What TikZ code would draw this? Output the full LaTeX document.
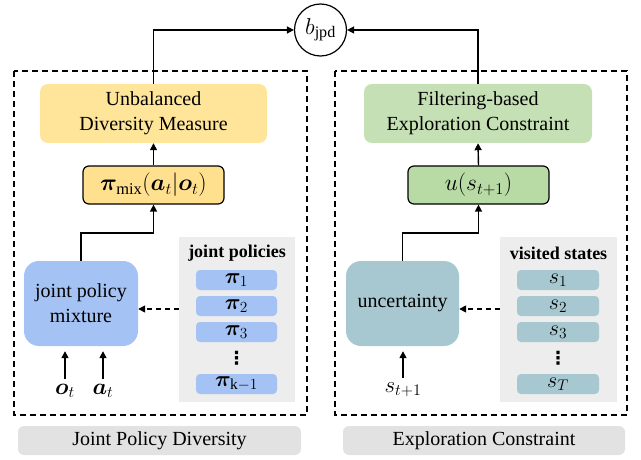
\RequirePackage{fix-cm}
\documentclass[tikz,border=0pt]{standalone}
\usepackage{fontspec}
\usepackage{amsmath}
\usepackage{bm}
\setmainfont{Liberation Serif}
\newfontfamily\symfont{DejaVu Sans}
\usetikzlibrary{arrows.meta,calc}

\definecolor{ylwA}{HTML}{FFE599}
\definecolor{ylwB}{HTML}{FFE08F}
\definecolor{grnA}{HTML}{C5E0B4}
\definecolor{grnB}{HTML}{B8DAA4}
\definecolor{bluA}{HTML}{A4C2F4}
\definecolor{tealA}{HTML}{A7C8D1}
\definecolor{panelgray}{HTML}{EDEDED}
\definecolor{tabgray}{HTML}{E2E2E2}

\tikzset{
  arr/.style={line width=1.4pt, -{Triangle[length=7pt,width=7pt]}},
  dasharr/.style={line width=1.4pt, dash pattern=on 5pt off 4pt, -{Triangle[length=7pt,width=7pt]}},
  frame/.style={line width=1.4pt, dash pattern=on 6pt off 4pt},
  bigbox/.style={rounded corners=8pt, minimum width=#1, minimum height=59pt, align=center, inner sep=0pt, font=\fontsize{20}{25}\selectfont},
  mathbox/.style={draw, line width=1.2pt, rounded corners=6pt, minimum width=141pt, minimum height=38pt, inner sep=0pt, font=\fontsize{23.5}{26}\selectfont},
  srcbox/.style={rounded corners=15pt, minimum width=#1, minimum height=85pt, align=center, inner sep=0pt, font=\fontsize{20}{25}\selectfont},
  panel/.style={fill=panelgray, minimum width=#1, minimum height=165pt, inner sep=0pt},
  item/.style={rounded corners=4pt, minimum width=81pt, minimum height=20pt, inner sep=0pt, font=\fontsize{22}{22}\selectfont},
  tab/.style={fill=tabgray, rounded corners=6pt, minimum width=#1, minimum height=29pt, inner sep=0pt, font=\fontsize{20}{24}\selectfont},
  lbl/.style={inner sep=0pt, font=\fontsize{23}{26}\selectfont},
  vdotsmark/.style={inner sep=0pt, font=\symfont\bfseries\fontsize{18}{18}\selectfont},
}

\begin{document}
\begin{tikzpicture}[x=1pt,y=-1pt]
\useasboundingbox (0,0) rectangle (641,460);

% merged output
\node[draw, circle, line width=1.2pt, minimum size=52pt, inner sep=0pt, font=\fontsize{23}{26}\selectfont] (bj) at (320.5,30) {$b_{\mathrm{jpd}}$};

% dashed group frames
\draw[frame] (14,71) rectangle (307,415);
\draw[frame] (335,71) rectangle (627,415);

% ---- left branch: joint policy diversity ----
\node[bigbox=227pt, fill=ylwA] (unb) at (153.5,113.5) {Unbalanced\\Diversity Measure};
\node[mathbox, fill=ylwB] (pimix) at (153.5,185) {$\bm{\pi}_{\mathrm{mix}}(\bm{a}_t|\bm{o}_t)$};
\node[srcbox=114pt, fill=bluA] (mix) at (81,303.5) {joint policy\\mixture};

\node[panel=116pt] (polpanel) at (237,319.5) {};
\node[lbl, font=\fontsize{18}{20}\selectfont\bfseries] (poltitle) at (237,253) {joint policies};
\node[item, fill=bluA] (p1) at (236.5,280) {$\bm{\pi}_1$};
\node[item, fill=bluA] (p2) at (236.5,306) {$\bm{\pi}_2$};
\node[item, fill=bluA] (p3) at (236.5,332) {$\bm{\pi}_3$};
\node[vdotsmark] (pdots) at (236.5,358) {⋮};
\node[item, fill=bluA] (pk) at (236.5,384) {$\bm{\pi}_{\mathrm{k}-1}$};

\node[lbl, anchor=north] (ot) at (65,384) {$\bm{o}_t$};
\node[lbl, anchor=north] (at) at (103,384) {$\bm{a}_t$};

\node[tab=283pt] (tabL) at (159.5,440.5) {Joint Policy Diversity};

% ---- right branch: exploration constraint ----
\node[bigbox=228pt, fill=grnA] (filt) at (478,113.5) {Filtering-based\\Exploration Constraint};
\node[mathbox, fill=grnB] (ubox) at (478.5,185) {$u(s_{t+1})$};
\node[srcbox=113pt, fill=tealA] (unc) at (402.5,303.5) {uncertainty};

\node[panel=117pt] (stpanel) at (558.5,319.5) {};
\node[lbl, font=\fontsize{18}{20}\selectfont\bfseries] (sttitle) at (558.5,253) {visited states};
\node[item, fill=tealA, minimum width=82pt] (s1) at (558,280) {$s_1$};
\node[item, fill=tealA, minimum width=82pt] (s2) at (558,306) {$s_2$};
\node[item, fill=tealA, minimum width=82pt] (s3) at (558,332) {$s_3$};
\node[vdotsmark] (sdots) at (558,358) {⋮};
\node[item, fill=tealA, minimum width=82pt] (sT) at (558,384) {$s_T$};

\node[lbl, anchor=north] (snext) at (403,382) {$s_{t+1}$};

\node[tab=282pt] (tabR) at (484,440.5) {Exploration Constraint};

% ---- connectors ----
\draw[arr] (unb.north) |- (bj.west);
\draw[arr] (filt.north) |- (bj.east);
\draw[arr] (pimix.north) -- (unb.south);
\draw[arr] (ubox.north) -- (filt.south);
\draw[arr] (mix.north) -- ++(0,-28) -| (pimix.south);
\draw[arr] (unc.north) -- ++(0,-28) -| (ubox.south);

\coordinate (dl) at ([yshift=10.5pt]polpanel.west);
\coordinate (dr) at ([yshift=10.5pt]stpanel.west);
\draw[dasharr] (dl) -- (dl -| mix.east);
\draw[dasharr] (dr) -- (dr -| unc.east);

\draw[arr, shorten <=5pt, shorten >=5pt] (ot.north) -- (ot.north |- mix.south);
\draw[arr, shorten <=5pt, shorten >=5pt] (at.north) -- (at.north |- mix.south);
\draw[arr, shorten <=4pt, shorten >=5pt] (snext.north) -- (snext.north |- unc.south);
\end{tikzpicture}
\end{document}
